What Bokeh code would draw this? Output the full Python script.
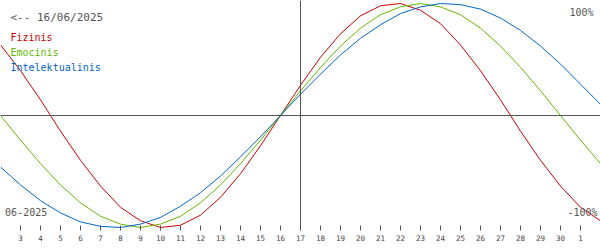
from bokeh.plotting import figure
from bokeh.models import Span, Label, FixedTicker, Range1d
from bokeh.embed import file_html
from bokeh.resources import INLINE

# Day positions: June 2 .. July 2 (index 2..32)
days = list(range(2, 33))
# Biorhythm values in percent, read per day
fizinis = [63, 40, 14, -14, -40, -63, -82, -94, -100, -98, -89, -73, -52, -27, 0,
           27, 52, 73, 89, 98, 100, 94, 82, 63, 40, 14, -14, -40, -63, -82, -94]
emocinis = [0, -22, -43, -62, -78, -90, -97, -100, -97, -90, -78, -62, -43, -22, 0,
            22, 43, 62, 78, 90, 97, 100, 97, 90, 78, 62, 43, 22, 0, -22, -43]
intelektualinis = [-46, -62, -76, -87, -95, -99, -100, -97, -91, -81, -69, -54, -37, -19, 0,
                   19, 37, 54, 69, 81, 91, 97, 100, 99, 95, 87, 76, 62, 46, 28, 10]

tick_pos = list(range(3, 32))
tick_labels = [str(d) for d in range(3, 31)] + ["1"]
today = 17

series_names = ["Fizinis", "Emocinis", "Intelektualinis"]
series_colors = ["#cc0000", "#66b800", "#0066cc"]

FONT = "DejaVu Sans Mono"
GRAY = "#555555"

p = figure(width=600, height=250, output_backend="svg", toolbar_location=None,
           x_range=Range1d(2, 32), y_range=Range1d(-102.7, 102.7),
           y_axis_location=None, min_border_left=0, min_border_right=0,
           min_border_top=0, min_border_bottom=20)
p.outline_line_color = None
p.xgrid.visible = False
p.ygrid.visible = False
p.background_fill_color = "white"
p.border_fill_color = "white"

ax = p.xaxis[0]
ax.ticker = FixedTicker(ticks=tick_pos)
ax.major_label_overrides = {t: l for t, l in zip(tick_pos, tick_labels)}
ax.axis_line_color = None
ax.major_tick_in = 5
ax.major_tick_out = 0
ax.major_tick_line_color = GRAY
ax.minor_tick_line_color = None
ax.major_label_text_font = FONT
ax.major_label_text_font_size = "7.5px"
ax.major_label_text_color = "#444444"
ax.major_label_standoff = 4

p.add_layout(Span(location=0, dimension="width", line_color=GRAY, line_width=1))
p.add_layout(Span(location=today, dimension="height", line_color=GRAY, line_width=1))

for vals, col in zip([fizinis, emocinis, intelektualinis], series_colors):
    p.line(days, vals, line_color=col, line_width=1)

def lab(x, y, t, col=GRAY, size="10px", align="left"):
    p.add_layout(Label(x=x, y=y, text=t, text_color=col, text_font=FONT,
                       text_font_size=size, text_align=align, text_baseline="middle"))

lab(2.5, 87.8, "<-- 16/06/2025", size="11px")
for name, col, yy in zip(series_names, series_colors, [69.9, 56.5, 43.1]):
    lab(2.5, yy, name, col=col)
lab(31.65, 91.7, "100%", align="right")
lab(31.85, -86.6, "-100%", align="right")
lab(2.23, -86.6, "06-2025")

open("out.html", "w").write(file_html(p, INLINE))
